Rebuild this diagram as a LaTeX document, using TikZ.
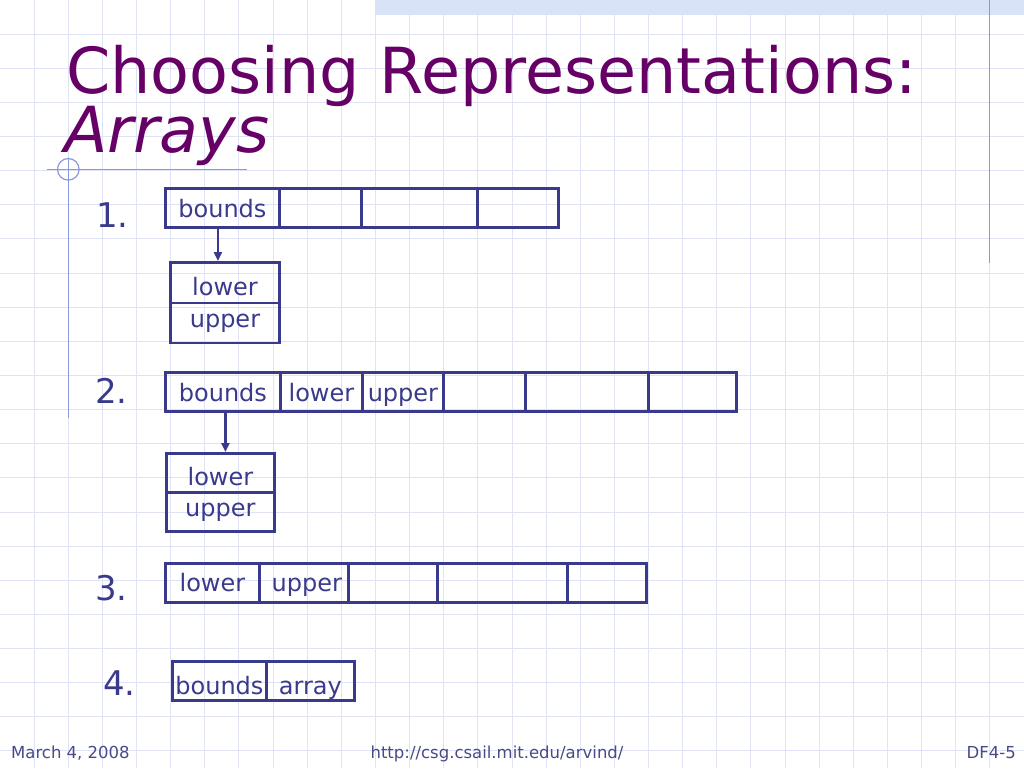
\documentclass[tikz,border=0pt]{standalone}
\usepackage{fontspec}
\setmainfont{DejaVu Sans}
\usetikzlibrary{arrows.meta,calc}
\definecolor{titlec}{HTML}{660066}
\definecolor{inkc}{HTML}{3A3A8C}
\definecolor{footc}{HTML}{4A4A88}
\definecolor{gridc}{HTML}{E0E3F6}
\definecolor{decoc}{HTML}{8A98DC}
\definecolor{stripc}{HTML}{D9E3F7}
\tikzset{
  cell/.style={draw=inkc, line width=2.8pt, inner sep=0pt, minimum height=39pt,
     text height=29.5pt, text depth=9.5pt, font=\fontsize{24}{24}\selectfont, text=inkc},
  num/.style={anchor=base west, inner sep=0pt, font=\fontsize{34}{34}\selectfont, text=inkc},
  foot/.style={inner sep=0pt, font=\fontsize{16.5}{16.5}\selectfont, text=footc},
  arr/.style={draw=inkc, line width=2.8pt, -{Triangle[length=9pt,width=8pt]}},
  deco/.style={draw=decoc, line width=1.2pt},
  gridline/.style={draw=gridc, line width=1pt}
}
\begin{document}
\begin{tikzpicture}[x=1pt,y=-1pt]
\useasboundingbox (0,0) rectangle (1024,768);
\fill[white] (0,0) rectangle (1024,768);
% grid
\foreach \k in {1,...,29} \draw[gridline] (34.133*\k,0) -- (34.133*\k,768);
\foreach \k in {1,...,22} \draw[gridline] (0,34.133*\k) -- (1024,34.133*\k);
% top strip
\fill[stripc] (375,0) rectangle (1024,15);
% decorations
\draw[deco] (989.7,0) -- (989.7,263);
\draw[deco] (46.7,169.3) -- (246.7,169.3);
\draw[deco] (68.3,169.3) circle (10.8);
\draw[deco] (68.3,158) -- (68.3,418);
% title
\node[anchor=base west, inner sep=0pt, text=titlec, font=\fontsize{63.5}{63.5}\selectfont] (t1) at (66,93) {Choosing Representations:};
\node[anchor=base west, inner sep=0pt, text=titlec, font=\fontsize{63.5}{63.5}\selectfont\itshape] (t2) at (64,152) {Arrays};
% numbers
\node[num] (n1) at (96,227) {1.};
\node[num] (n2) at (95,403) {2.};
\node[num] (n3) at (95,600) {3.};
\node[num] (n4) at (103,695) {4.};
% row 1
\node[cell, anchor=north west, minimum width=114pt] (b1) at (164,187) {bounds};
\node[cell, anchor=north west, minimum width=82pt] (c12) at (278,187) {};
\node[cell, anchor=north west, minimum width=116pt] (c13) at (360,187) {};
\node[cell, anchor=north west, minimum width=81pt] (c14) at (476,187) {};
\node[cell, anchor=north west, minimum width=108.5pt, minimum height=40.5pt, text height=33pt, text depth=7.5pt] (l1) at (169.3,261) {lower};
\node[cell, anchor=north west, minimum width=108.5pt, minimum height=40pt, text height=25pt, text depth=15pt] (u1) at (169.3,301.5) {upper};
\draw[arr] ([xshift=-4.5pt]b1.south) -- ([xshift=-4.5pt]b1.south |- l1.north);
% row 2
\node[cell, anchor=north west, minimum width=115pt] (b2) at (164,371) {bounds};
\node[cell, anchor=north west, minimum width=82pt] (l2a) at (279,371) {lower};
\node[cell, anchor=north west, minimum width=81pt] (u2a) at (361,371) {upper};
\node[cell, anchor=north west, minimum width=82pt] (c24) at (442,371) {};
\node[cell, anchor=north west, minimum width=123pt] (c25) at (524,371) {};
\node[cell, anchor=north west, minimum width=88pt] (c26) at (647,371) {};
\node[cell, anchor=north west, minimum width=108pt, minimum height=39pt, text height=32pt, text depth=7pt] (l2) at (165,452) {lower};
\node[cell, anchor=north west, minimum width=108pt, minimum height=39pt, text height=24pt, text depth=15pt] (u2) at (165,491) {upper};
\draw[arr] ([xshift=2.5pt]b2.south) -- ([xshift=2.5pt]b2.south |- l2.north);
% row 3
\node[cell, anchor=north west, minimum width=94pt, text height=28pt, text depth=11pt] (l3) at (164,562) {lower};
\node[cell, anchor=north west, minimum width=89pt, text height=28pt, text depth=11pt] (u3) at (258,562) {\hspace{6pt}upper};
\node[cell, anchor=north west, minimum width=89pt] (c33) at (347,562) {};
\node[cell, anchor=north west, minimum width=130pt] (c34) at (436,562) {};
\node[cell, anchor=north west, minimum width=79pt] (c35) at (566,562) {};
% row 4
\node[cell, anchor=north west, minimum width=94pt, text height=33pt, text depth=6pt] (b4) at (171,660) {bounds};
\node[cell, anchor=north west, minimum width=88pt, text height=33pt, text depth=6pt] (a4) at (265,660) {array\hspace{6pt}};
% footer
\node[foot, anchor=base west] (f1) at (11,758) {March 4, 2008};
\node[foot, anchor=base] (f2) at (497,758) {http://csg.csail.mit.edu/arvind/};
\node[foot, anchor=base east] (f3) at (1016,758) {DF4-5};
\end{tikzpicture}
\end{document}
